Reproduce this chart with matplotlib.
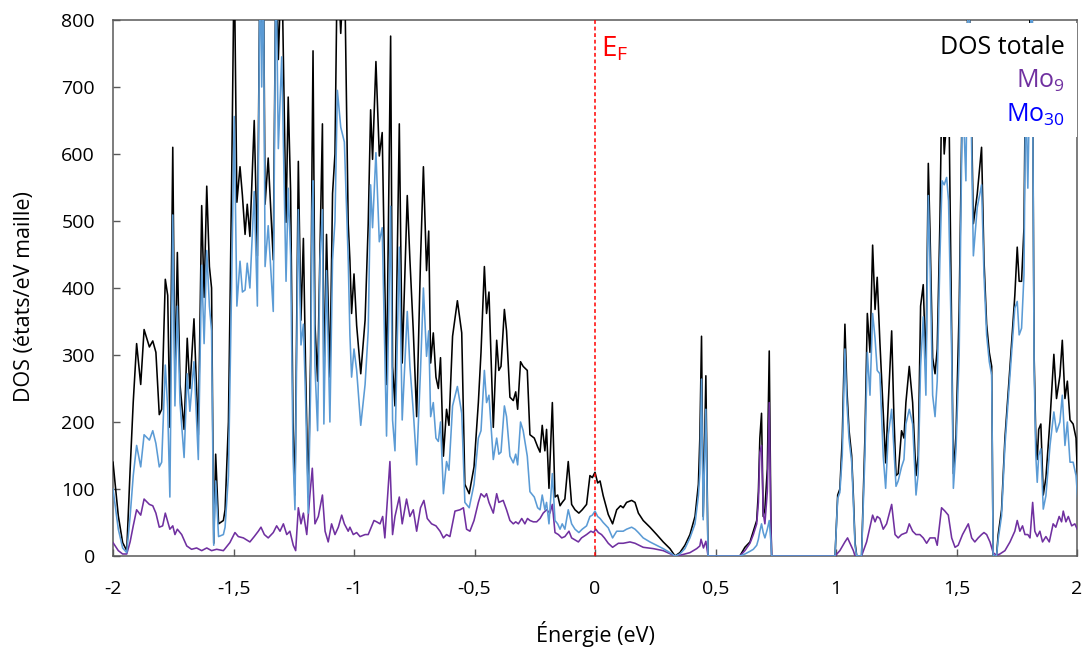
import matplotlib
matplotlib.use('Agg')
import matplotlib.pyplot as plt
from matplotlib.patches import Rectangle
from matplotlib.ticker import FuncFormatter

# ---------------- data ----------------
energy = [
    -2.000, -1.978, -1.960, -1.943, -1.929, -1.916, -1.902, -1.885, -1.871, -1.849,
    -1.835, -1.822, -1.808, -1.798, -1.783, -1.773, -1.764, -1.752, -1.743, -1.733,
    -1.722, -1.705, -1.692, -1.681, -1.664, -1.646, -1.632, -1.622, -1.611, -1.600,
    -1.591, -1.582, -1.574, -1.562, -1.542,
    -1.535, -1.521, -1.508, -1.497, -1.486, -1.473, -1.463, -1.452, -1.443, -1.432,
    -1.414, -1.401, -1.390, -1.383, -1.376, -1.369, -1.356, -1.335, -1.324, -1.314,
    -1.300, -1.282, -1.273, -1.263, -1.253, -1.245, -1.231, -1.220, -1.210, -1.201,
    -1.190, -1.180, -1.174, -1.170, -1.162, -1.151, -1.141, -1.131, -1.125, -1.114,
    -1.100, -1.089, -1.079, -1.069, -1.055, -1.040, -1.024,
    -1.017, -1.010, -1.000, -0.989, -0.972, -0.954, -0.941, -0.931, -0.923, -0.909,
    -0.895, -0.883, -0.865, -0.848, -0.840, -0.830, -0.812, -0.800, -0.779, -0.768,
    -0.754, -0.740, -0.724, -0.712, -0.699, -0.690, -0.682, -0.671, -0.660, -0.650,
    -0.641, -0.629, -0.616, -0.606, -0.591, -0.571, -0.553, -0.540, -0.522, -0.502,
    -0.484,
    -0.473, -0.459, -0.450, -0.440, -0.422, -0.408, -0.399, -0.390, -0.376, -0.367,
    -0.353, -0.339, -0.329, -0.321, -0.309, -0.298, -0.281, -0.270, -0.252, -0.238,
    -0.228, -0.219, -0.208, -0.201, -0.191, -0.177, -0.166, -0.155, -0.145, -0.136,
    -0.125, -0.111, -0.097, -0.083, -0.067, -0.053, -0.035, -0.021, -0.011, 0.000,
    0.011, 0.021, 0.034, 0.055, 0.073, 0.090, 0.106, 0.117, 0.131, 0.152,
    0.166, 0.180, 0.200, 0.228, 0.256, 0.283, 0.311, 0.332, 0.352, 0.373,
    0.394, 0.415, 0.429, 0.435, 0.442, 0.449, 0.460, 0.469, 0.601, 0.622,
    0.643, 0.657, 0.671, 0.678, 0.684, 0.691, 0.698, 0.705, 0.715, 0.723,
    0.730, 0.733, 0.996, 1.007, 1.016, 1.026, 1.037, 1.045, 1.054, 1.065,
    1.072, 1.079, 1.086, 1.106,
    1.120, 1.130, 1.141, 1.152, 1.162, 1.171, 1.182, 1.196, 1.206, 1.217,
    1.231, 1.240, 1.249, 1.258, 1.272, 1.282, 1.290, 1.304, 1.318, 1.332,
    1.341, 1.351, 1.362, 1.373, 1.383, 1.390, 1.401, 1.411, 1.420, 1.431,
    1.440, 1.449, 1.459, 1.467, 1.480, 1.487, 1.498, 1.511,
    1.525, 1.539, 1.550, 1.570, 1.586, 1.604, 1.614, 1.625, 1.636, 1.646,
    1.652, 1.666, 1.673, 1.687, 1.701, 1.722, 1.742, 1.752, 1.760, 1.770,
    1.780, 1.787, 1.796, 1.813, 1.822, 1.829, 1.835, 1.841, 1.850, 1.860,
    1.871, 1.888, 1.904, 1.915, 1.929, 1.939, 1.950, 1.960, 1.971, 1.984,
    1.996, 2.005,
]

dos_total = [
    140, 60, 20, 8, 128, 230, 317, 256, 338, 312,
    321, 304, 211, 219, 413, 389, 192, 610, 261, 453,
    256, 189, 325, 250, 354, 181, 523, 386, 552, 432,
    400, 19, 152, 48, 53,
    69, 200, 550, 900, 528, 581, 538, 480, 525, 477,
    650, 448, 900, 780, 900, 525, 594, 442, 900, 741,
    900, 498, 685, 544, 200, 91, 589, 352, 474, 283,
    88, 300, 600, 754, 346, 261, 460, 645, 250, 480,
    267, 541, 600, 900, 780, 900, 496,
    442, 362, 421, 344, 272, 352, 496, 666, 592, 738,
    597, 632, 256, 776, 283, 224, 645, 288, 538, 442,
    336, 208, 442, 581, 426, 485, 288, 333, 267, 250,
    296, 149, 219, 195, 328, 381, 333, 107, 93, 133,
    229,
    304, 432, 362, 394, 192, 322, 277, 283, 368, 336,
    237, 232, 245, 219, 290, 283, 277, 181, 176, 163,
    155, 195, 157, 189, 101, 229, 88, 91, 75, 80,
    85, 141, 77, 69, 64, 69, 77, 120, 117, 125,
    109, 112, 90, 62, 48, 69, 75, 72, 80, 83,
    80, 64, 53, 43, 32, 21, 11, 0, 5, 16,
    32, 59, 107, 176, 328, 59, 269, 0, 0, 13,
    21, 37, 53, 96, 176, 213, 59, 70, 130, 306,
    50, 0, 0, 91, 100, 176, 346, 250, 188, 150,
    90, 20, 0, 0,
    176, 362, 304, 464, 368, 416, 320, 213, 139, 229,
    336, 213, 120, 123, 187, 176, 229, 283, 229, 120,
    150, 373, 405, 277, 586, 485, 296, 272, 309, 496,
    720, 600, 650, 720, 336, 123, 181, 368,
    720, 650, 900, 496, 540, 610, 442, 346, 304, 283,
    0, 0, 32, 69, 176, 283, 389, 461, 410, 410,
    490, 750, 700, 900, 300, 176, 144, 189, 197, 91,
    117, 203, 301, 235, 269, 322, 235, 261, 203, 197,
    176, 91,
]

dos_mo30 = [
    100, 40, 12, 5, 59, 120, 165, 133, 181, 173,
    187, 168, 133, 140, 285, 220, 88, 509, 224, 373,
    229, 147, 272, 216, 290, 144, 434, 317, 456, 373,
    336, 16, 112, 29, 32,
    43, 120, 400, 656, 373, 440, 394, 397, 437, 400,
    544, 373, 900, 700, 900, 432, 493, 365, 900, 608,
    745, 410, 549, 448, 150, 69, 517, 315, 346, 235,
    64, 250, 514, 560, 283, 187, 442, 517, 197, 426,
    200, 442, 500, 695, 640, 618, 442,
    330, 267, 309, 277, 195, 256, 336, 554, 490, 602,
    469, 490, 179, 522, 203, 157, 461, 203, 365, 283,
    216, 136, 277, 400, 298, 336, 208, 229, 176, 171,
    200, 93, 141, 128, 224, 253, 213, 80, 72, 107,
    176,
    187, 277, 229, 240, 144, 176, 152, 155, 224, 208,
    149, 139, 152, 136, 200, 187, 149, 96, 88, 72,
    69, 91, 69, 80, 48, 123, 53, 48, 40, 48,
    40, 69, 48, 40, 35, 40, 45, 59, 61, 67,
    59, 56, 50, 42, 27, 37, 37, 37, 40, 43,
    40, 35, 27, 21, 16, 11, 5, 0, 3, 11,
    27, 48, 90, 123, 264, 54, 219, 0, 0, 3,
    7, 10, 16, 25, 37, 48, 35, 27, 40, 53,
    20, 0, 0, 86, 95, 150, 309, 230, 175, 140,
    80, 15, 0, 0,
    150, 304, 240, 362, 325, 277, 272, 149, 101, 181,
    219, 160, 104, 112, 133, 144, 197, 219, 197, 91,
    123, 283, 357, 240, 538, 442, 240, 208, 261, 442,
    560, 554, 565, 530, 300, 101, 160, 300,
    700, 560, 900, 448, 520, 554, 420, 330, 290, 270,
    0, 0, 25, 60, 165, 270, 370, 380, 330, 340,
    420, 700, 549, 900, 280, 150, 110, 150, 160, 70,
    90, 165, 215, 185, 200, 240, 165, 200, 140, 140,
    120, 75,
]

energy_mo9 = [
    -2.000, -1.978, -1.960, -1.943, -1.929, -1.916, -1.902, -1.885, -1.871, -1.849,
    -1.835, -1.822, -1.808, -1.794, -1.783, -1.764, -1.752, -1.743, -1.733, -1.715,
    -1.694, -1.674, -1.653, -1.632, -1.611, -1.591, -1.570, -1.542, -1.535, -1.515,
    -1.494, -1.480, -1.459, -1.432, -1.414, -1.397, -1.386, -1.372, -1.356, -1.335,
    -1.321, -1.307, -1.293, -1.279, -1.266, -1.252, -1.242, -1.231, -1.220, -1.210,
    -1.196, -1.183, -1.173, -1.162, -1.148, -1.131, -1.120, -1.107, -1.093, -1.079,
    -1.065, -1.051, -1.040, -1.024, -1.017, -1.003, -0.989, -0.975, -0.954, -0.941,
    -0.917, -0.906, -0.892, -0.881, -0.872, -0.851, -0.840, -0.830, -0.812, -0.800,
    -0.782, -0.768, -0.754, -0.740, -0.724, -0.710, -0.696, -0.678, -0.660, -0.643,
    -0.629, -0.616, -0.602, -0.581, -0.560, -0.546, -0.533, -0.519, -0.502, -0.484,
    -0.473, -0.459, -0.450, -0.440, -0.422, -0.408, -0.399, -0.381, -0.367, -0.353,
    -0.339, -0.329, -0.318, -0.304, -0.291, -0.280, -0.270, -0.256, -0.242, -0.228,
    -0.215, -0.201, -0.187, -0.177, -0.166, -0.152, -0.138, -0.125, -0.108, -0.097,
    -0.083, -0.069, -0.056, -0.035, -0.017, -0.006, 0.003, 0.014, 0.027, 0.039,
    0.055, 0.073, 0.097, 0.117, 0.145, 0.166, 0.200, 0.242, 0.283, 0.332,
    0.352, 0.394, 0.422, 0.435, 0.440, 0.450, 0.460, 0.469, 0.601, 0.622,
    0.643, 0.657, 0.671, 0.678, 0.684, 0.691, 0.698, 0.705, 0.715, 0.723,
    0.730, 0.733, 0.996, 1.016, 1.037, 1.048, 1.062, 1.072, 1.079, 1.106,
    1.127, 1.152, 1.162, 1.171, 1.182, 1.196, 1.210, 1.231, 1.245, 1.258,
    1.272, 1.293, 1.304, 1.318, 1.332, 1.348, 1.362, 1.376, 1.390, 1.411,
    1.420, 1.438, 1.452, 1.466, 1.480, 1.494, 1.507, 1.525, 1.549, 1.563,
    1.576, 1.590, 1.604, 1.614, 1.625, 1.639, 1.652, 1.666, 1.680, 1.701,
    1.722, 1.742, 1.752, 1.763, 1.774, 1.784, 1.796, 1.805, 1.816, 1.825,
    1.835, 1.846, 1.857, 1.871, 1.885, 1.901, 1.912, 1.926, 1.936, 1.943,
    1.954, 1.964, 1.978, 1.991, 2.005,
]

dos_mo9 = [
    20, 8, 3, 3, 21, 45, 69, 61, 85, 77,
    75, 64, 43, 45, 64, 40, 45, 32, 40, 32,
    15, 10, 12, 8, 12, 8, 10, 8, 11, 20,
    35, 29, 27, 21, 29, 37, 43, 32, 27, 35,
    45, 37, 48, 32, 37, 16, 8, 72, 48, 64,
    32, 91, 131, 48, 59, 91, 37, 21, 48, 32,
    43, 61, 48, 37, 43, 32, 35, 29, 32, 32,
    53, 51, 48, 59, 27, 141, 32, 59, 88, 48,
    85, 59, 69, 37, 72, 83, 56, 48, 45, 37,
    27, 32, 29, 67, 69, 72, 40, 37, 53, 80,
    93, 88, 93, 80, 64, 93, 80, 83, 69, 53,
    48, 51, 48, 56, 48, 56, 53, 51, 51, 56,
    64, 69, 64, 77, 35, 32, 27, 29, 37, 27,
    24, 21, 27, 32, 37, 35, 40, 35, 32, 27,
    19, 13, 19, 19, 21, 19, 13, 11, 8, 0,
    1, 5, 11, 15, 25, 12, 22, 0, 0, 8,
    19, 32, 48, 80, 155, 165, 64, 48, 96, 229,
    40, 0, 0, 8, 21, 27, 16, 8, 0, 0,
    21, 61, 51, 59, 56, 40, 48, 77, 32, 27,
    32, 35, 48, 37, 32, 32, 27, 19, 27, 27,
    16, 72, 67, 61, 27, 13, 16, 32, 48, 27,
    21, 27, 32, 35, 32, 21, 5, 1, 3, 8,
    21, 37, 53, 37, 45, 32, 32, 27, 80, 37,
    29, 37, 21, 29, 21, 48, 43, 59, 51, 67,
    51, 59, 45, 48, 37,
]

x_ticks = [-2, -1.5, -1, -0.5, 0, 0.5, 1, 1.5, 2]
y_ticks = [0, 100, 200, 300, 400, 500, 600, 700, 800]
labels = ['DOS totale', 'Mo$_9$', 'Mo$_{30}$']
x_label = 'Énergie (eV)'
y_label = 'DOS (états/eV maille)'

# ---------------- figure ----------------
plt.rcParams['font.family'] = ['Open Sans', 'DejaVu Sans']
plt.rcParams['mathtext.default'] = 'regular'

fig = plt.figure(figsize=(10.85, 6.52), dpi=100)
W, H = 1085, 652
ax = fig.add_axes([113 / W, 96 / H, 964 / W, 536 / H])

c_tot, c_mo9, c_mo30 = '#000000', '#7030A0', '#5B9BD5'
ax.plot(energy, dos_total, color=c_tot, lw=1.15, zorder=3)
ax.plot(energy_mo9, dos_mo9, color=c_mo9, lw=1.15, zorder=4)
ax.plot(energy, dos_mo30, color=c_mo30, lw=1.15, zorder=5)
ax.axvline(0, color='#FF0000', lw=1.1, ls=(0, (2.5, 1.8)), zorder=6)

ax.set_xlim(-2, 2)
ax.set_ylim(0, 800)
ax.set_xticks(x_ticks)
ax.set_yticks(y_ticks)
ax.xaxis.set_major_formatter(FuncFormatter(lambda v, p: f"{v:g}".replace('.', ',')))
ax.tick_params(axis='both', direction='in', length=5, width=1, color='#595959',
               labelsize=14, labelcolor='black')
ax.tick_params(axis='x', pad=17)
ax.tick_params(axis='y', pad=13)
for s in ax.spines.values():
    s.set_color('#595959')
    s.set_linewidth(1.1)

# legend-like white box with coloured text
ax.add_patch(Rectangle((1.411, 625), 0.6, 171, facecolor='white', edgecolor='none', zorder=7))
ax.text(1.950, 750, labels[0], color=c_tot, fontsize=18, ha='right', va='baseline', zorder=8)
ax.text(1.950, 699, labels[1], color=c_mo9, fontsize=18, ha='right', va='baseline', zorder=8)
ax.text(1.950, 648, labels[2], color='#0000FF', fontsize=18, ha='right', va='baseline', zorder=8)

ax.text(0.025, 746, 'E$_F$', color='#FF0000', fontsize=20, ha='left', va='baseline', zorder=8)

fig.text(595 / W, 1 - 634 / H, x_label, ha='center', va='center', fontsize=15.5)
fig.text(25 / W, 1 - 297 / H, y_label, ha='center', va='center', rotation=90, fontsize=15.5)

fig.savefig('out.png', dpi=100, facecolor='white')
